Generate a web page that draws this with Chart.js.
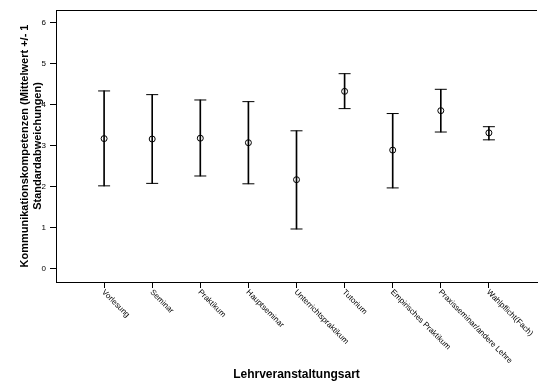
<!DOCTYPE html>
<html>
<head>
<meta charset="utf-8">
<script src="https://cdn.jsdelivr.net/npm/chart.js@4"></script>
<style>
  body { margin: 0; background: #fff; }
</style>
</head>
<body>
<canvas id="errChart" width="550" height="392"></canvas>
<script>
const categories = ['Vorlesung', 'Seminar', 'Praktikum', 'Hauptseminar', 'Unterrichtspraktikum',
    'Tutorium', 'Empirisches Praktikum', 'Praxisseminar/andere Lehre', 'Wahlpflicht(Fach)'];
const means = [3.17, 3.16, 3.18, 3.07, 2.17, 4.32, 2.89, 3.85, 3.31];
const upper = [4.33, 4.24, 4.11, 4.07, 3.36, 4.75, 3.78, 4.37, 3.46];
const lower = [2.02, 2.08, 2.26, 2.07, 0.97, 3.90, 1.97, 3.33, 3.14];
const yTicks = ['0', '1', '2', '3', '4', '5', '6'];

const font = '"Liberation Sans", Arial, sans-serif';

// top frame line + slanted category labels
const drawExtras = {
    id: 'drawExtras',
    afterDraw(chart) {
        const { ctx, chartArea, scales: { x } } = chart;
        ctx.save();
        ctx.strokeStyle = '#000';
        ctx.lineWidth = 1;
        ctx.beginPath();
        ctx.moveTo(chartArea.left, chartArea.top + 0.5);
        ctx.lineTo(chartArea.right, chartArea.top + 0.5);
        ctx.stroke();
        ctx.fillStyle = '#000';
        ctx.font = '8px ' + font;
        ctx.textAlign = 'left';
        ctx.textBaseline = 'middle';
        categories.forEach((c, i) => {
            const px = x.getPixelForValue(i);
            ctx.save();
            ctx.translate(px - 1, chartArea.bottom + 9);
            ctx.rotate(Math.PI / 4);
            ctx.fillText(c, 0, 0);
            ctx.restore();
        });
        ctx.restore();
    }
};

const ctx = document.getElementById('errChart').getContext('2d');
const errChart = new Chart(ctx, {
    type: 'scatter',
    data: {
        datasets: [{
            type: 'bar',
            data: categories.map((c, i) => ({ x: i, y: [lower[i], upper[i]] })),
            backgroundColor: '#000',
            borderWidth: 0,
            barThickness: 1
        }, {
            data: categories.flatMap((c, i) => [{ x: i, y: lower[i] }, { x: i, y: upper[i] }]),
            pointStyle: 'line',
            pointRadius: 6,
            borderColor: '#000',
            borderWidth: 1
        }, {
            data: categories.map((c, i) => ({ x: i, y: means[i] })),
            pointStyle: 'circle',
            pointRadius: 3,
            backgroundColor: '#fff',
            borderColor: '#000',
            borderWidth: 1
        }]
    },
    options: {
        responsive: false,
        animation: false,
        layout: { padding: { top: 10, right: 13, left: 0, bottom: 0 } },
        plugins: {
            legend: { display: false },
            tooltip: { enabled: false }
        },
        scales: {
            x: {
                type: 'linear',
                min: -1,
                max: 9,
                offset: false,
                afterFit: (s) => { s.height = 110; },
                ticks: { stepSize: 1, callback: () => '', font: { size: 8, family: font } },
                grid: {
                    offset: false,
                    drawOnChartArea: false,
                    tickLength: 6,
                    tickColor: (c) => (c.tick && (c.tick.value < 0 || c.tick.value > 8)) ? 'rgba(0,0,0,0)' : '#000'
                },
                border: { color: '#000', width: 1 },
                title: {
                    display: true,
                    text: 'Lehrveranstaltungsart',
                    color: '#000',
                    font: { size: 12, weight: 'bold', family: font },
                    padding: { top: 0, bottom: 10 }
                }
            },
            y: {
                min: -0.32,
                max: 6.3,
                afterFit: (s) => { s.width = 56; },
                ticks: {
                    stepSize: 1,
                    includeBounds: false,
                    padding: 4,
                    color: '#000',
                    font: { size: 8, family: font },
                    callback: (v) => yTicks[v]
                },
                grid: { drawOnChartArea: false, tickLength: 6, tickColor: '#000' },
                border: { color: '#000', width: 1 },
                title: {
                    display: true,
                    text: ['Kommunikationskompetenzen (Mittelwert +/- 1', 'Standardabweichungen)'],
                    color: '#000',
                    font: { size: 11, weight: 'bold', family: font },
                    padding: { top: 18, bottom: 0 }
                }
            }
        }
    },
    plugins: [drawExtras]
});
</script>
</body>
</html>
